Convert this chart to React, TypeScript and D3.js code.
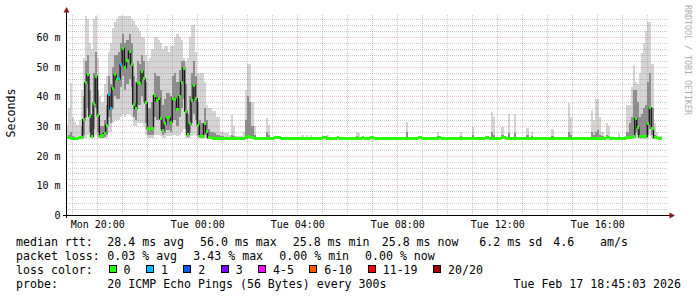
import React from "react";
import * as d3 from "d3";

// ---------------- data ----------------
const START = new Date(2026, 1, 16, 18, 45, 3);
const END = new Date(2026, 1, 17, 18, 45, 3);
const STEP_SECONDS = 300;

// median rtt (ms) per 5-minute step
const median: number[] = [
  26.0, 26.0, 25.9, 25.8, 25.8, 25.8, 26.0, 26.0, 32.1, 44.5,
  47.3, 33.3, 26.5, 37.7, 46.7, 33.5, 26.5, 26.9, 27.5, 30.2,
  40.5, 35.8, 42.8, 47.3, 45.6, 45.9, 50.7, 56.0, 49.6, 52.0,
  55.2, 50.9, 37.4, 35.8, 44.5, 44.2, 48.4, 45.9, 37.8, 29.1,
  28.8, 29.1, 40.3, 38.5, 39.4, 32.5, 28.6, 30.7, 32.7, 32.7,
  31.3, 39.4, 39.0, 35.4, 39.9, 44.8, 49.5, 35.0, 27.1, 30.7,
  38.5, 43.5, 39.2, 30.2, 26.6, 26.4, 30.7, 28.0, 26.0, 26.0,
  25.9, 25.9, 25.8, 25.8, 25.8, 25.8, 25.8, 25.8, 25.8, 25.9,
  25.8, 25.8, 25.8, 25.8, 25.8, 25.8, 26.0, 26.3, 26.5, 26.2,
  25.9, 25.8, 25.8, 25.8, 25.8, 25.8, 25.9, 25.8, 25.8, 25.8,
  26.1, 26.2, 26.1, 25.8, 25.8, 25.8, 25.8, 25.8, 25.8, 25.8,
  25.8, 25.8, 25.8, 25.8, 25.8, 25.8, 25.8, 25.8, 25.8, 25.8,
  25.8, 25.8, 25.8, 26.1, 26.2, 25.8, 25.8, 25.8, 25.8, 25.8,
  26.1, 25.8, 25.8, 25.8, 25.8, 25.8, 25.8, 25.8, 25.8, 25.9,
  25.8, 25.8, 26.1, 25.8, 25.8, 25.8, 26.1, 26.1, 25.8, 25.8,
  25.8, 25.8, 25.8, 25.8, 25.8, 25.8, 25.8, 25.8, 25.8, 25.8,
  25.8, 25.8, 25.8, 25.9, 25.8, 25.8, 25.8, 25.8, 25.8, 26.1,
  26.1, 25.8, 25.8, 25.8, 25.8, 25.8, 25.8, 25.8, 25.8, 26.1,
  25.8, 25.8, 25.8, 25.8, 25.8, 25.8, 25.8, 25.8, 25.8, 25.8,
  25.8, 25.8, 25.8, 25.8, 25.8, 25.8, 25.8, 25.8, 25.8, 25.8,
  25.8, 26.1, 26.1, 25.8, 25.9, 25.9, 25.8, 25.8, 25.8, 26.1,
  26.1, 25.8, 25.9, 25.8, 25.8, 25.9, 25.8, 25.8, 25.8, 25.8,
  25.8, 25.8, 25.8, 25.8, 25.8, 25.8, 25.8, 25.8, 25.8, 25.8,
  25.8, 25.8, 25.8, 25.8, 25.8, 25.8, 25.8, 25.8, 25.8, 25.8,
  25.8, 25.9, 25.8, 25.8, 25.8, 25.8, 25.8, 25.8, 25.8, 25.8,
  25.8, 25.8, 25.9, 25.8, 25.9, 25.9, 25.8, 25.8, 25.8, 26.1,
  26.1, 25.8, 25.7, 25.7, 25.7, 25.8, 25.8, 25.8, 25.8, 26.0,
  26.0, 26.2, 26.4, 32.5, 29.4, 26.4, 26.6, 26.6, 26.5, 30.7,
  36.1, 29.3, 26.0, 26.0, 25.9, 25.9,
];

// steps with packet loss (number of lost pings out of 20)
const lossSteps = [20, 21, 25, 26];
const lossCounts = [1, 1, 1, 1];

// smoke (ping spread) for the busy evening, steps 0..90
const leftSmokeMin: number[] = [
  25.7, 25.7, 25.7, 25.7, 25.7, 25.7, 25.7, 25.7, 25.8, 26,
  27, 26, 25.8, 26, 27, 26, 25.8, 25.8, 25.8, 26,
  28, 28, 31, 32, 32, 32, 33, 34, 33, 34,
  34, 33, 30, 30, 31, 31, 31, 30, 27, 26,
  26, 26, 27, 27, 27, 26.5, 26, 26, 26.5, 26.5,
  26.5, 27, 27, 26.5, 27, 28, 29, 26, 25.8, 26,
  26.5, 27, 26.5, 26, 25.8, 25.8, 26, 25.8, 25.7, 25.7,
  25.7, 25.7, 25.7, 25.7, 25.7, 25.7, 25.7, 25.7, 25.7, 25.7,
  25.7, 25.7, 25.7, 25.7, 25.7, 25.7, 25.7, 25.7, 25.7, 25.7,
  25.7,
];
const leftSmokeQ1: number[] = [
  25.8, 25.8, 25.8, 25.8, 25.8, 25.8, 25.8, 25.9, 27, 33,
  36, 28, 26, 29, 36, 28, 26, 26, 26.2, 27,
  33, 31, 36, 40, 39, 39, 43, 47, 42, 44,
  46, 43, 33, 32, 37, 37, 40, 38, 31, 27,
  27, 27, 33, 32, 32, 29, 27, 27.5, 28.5, 28.5,
  28, 32, 32, 30, 33, 36, 39, 29, 26.2, 27.5,
  31, 34, 32, 27, 26, 26, 27, 26.2, 25.8, 25.8,
  25.8, 25.8, 25.8, 25.8, 25.8, 25.8, 25.8, 25.8, 25.8, 25.8,
  25.8, 25.8, 25.8, 25.8, 25.8, 25.8, 25.9, 26, 26, 25.9,
  25.8,
];
const leftSmokeQ3: number[] = [
  26.5, 27, 28, 26.5, 26.3, 26.3, 26.5, 30, 40, 52,
  54, 42, 34, 48, 55, 42, 30, 30, 32, 37,
  47, 44, 50, 54, 54, 55, 58, 61, 58, 59,
  61, 58, 47, 45, 52, 51, 54, 52, 45, 36,
  36, 38, 48, 47, 47, 42, 37, 39, 41, 41,
  40, 47, 48, 45, 49, 52, 52, 44, 34, 40,
  48, 52, 47, 38, 32, 31, 36, 32, 29, 28,
  28, 27.5, 27, 27, 26.5, 26.5, 26.3, 26.3, 26.2, 27,
  26.5, 26, 26, 26, 26, 26.2, 32, 40, 38, 30,
  27,
];
const leftSmokeMax: number[] = [
  30.5, 36, 44.5, 33, 31.5, 30.5, 32, 42, 53, 67,
  66, 58, 56, 66, 67, 53, 40, 38, 44, 47,
  55, 58, 63, 65, 66, 67, 67, 67, 67, 67,
  67, 66, 65.5, 64, 63, 62, 60, 60, 54, 52,
  53, 56, 60, 60, 59, 58, 56, 57, 57, 55,
  57, 57, 60, 61, 60, 59, 53, 52, 53, 60,
  64, 64, 55, 48, 48, 48, 45, 37, 36, 36,
  35, 35, 33, 33, 28, 28, 27.5, 27.5, 27, 33.7,
  30, 26.5, 26.5, 26.5, 26.5, 28, 42, 51, 51, 38,
  30,
];

// smoke for the late afternoon, steps 268..285
const rightSmokeStart = 268;
const rightSmokeMin = [25.7, 25.7, 25.7, 25.7, 25.7, 26, 25.8, 25.7, 25.7, 25.7, 25.7, 26, 26.5, 26, 25.7, 25.7, 25.7, 25.7];
const rightSmokeQ1 = [25.8, 25.8, 25.9, 26, 26, 28, 27, 26, 26, 26, 26, 27, 29, 27, 25.8, 25.8, 25.8, 25.8];
const rightSmokeQ3 = [26, 28, 31, 33, 42, 42, 38, 33, 34, 36, 37, 45, 48, 36, 27, 26.5, 26.2, 26.2];
const rightSmokeMax = [26.5, 37, 37, 43, 50.5, 44.8, 44, 48, 54.5, 58, 62, 65, 65, 51, 31, 28, 26.5, 26.5];

// isolated smoke spikes during the quiet part
const spikeSteps = [96, 97, 113, 115, 117, 125, 139, 140, 163, 178, 189, 195, 204, 205, 209, 212, 215, 221, 223, 233, 241, 242, 252, 253, 254, 255, 256, 257, 259, 260, 265];
const spikeQ3 = [28, 27, 26.3, 26.3, 26.3, 26.3, 26.5, 26.3, 28, 26.5, 26.5, 27, 28, 27, 27, 27.5, 27.5, 27, 26.5, 26.5, 28, 27, 28, 27, 28, 28.5, 27, 26.5, 27, 26.5, 26.3];
const spikeMax = [32.7, 30.5, 26.9, 26.9, 26.9, 26.8, 28, 27.5, 31.5, 28, 28, 29.8, 34.8, 33, 29.5, 33.9, 33.9, 29.3, 28, 29, 37.6, 33, 35.4, 32, 39, 39, 33, 28, 31, 30, 27.6];

const yTickValues = [0, 10, 20, 30, 40, 50, 60];
const yTickLabels = ["0", "10 m", "20 m", "30 m", "40 m", "50 m", "60 m"];
const xTickLabels = ["Mon 20:00", "Tue 00:00", "Tue 04:00", "Tue 08:00", "Tue 12:00", "Tue 16:00"];

const lossLabels = ["0", "1", "2", "3", "4-5", "6-10", "11-19", "20/20"];
const lossColors = ["#26ff00", "#00b8ff", "#0059ff", "#7e00ff", "#ff00ff", "#ff5500", "#ff0000", "#a10000"];

const rttLegend = ["median rtt:", "28.4 ms avg", "56.0 ms max", "25.8 ms min", "25.8 ms now", "6.2 ms sd", "4.6", "am/s"];
const lossLegend = ["packet loss:", "0.03 % avg", "3.43 % max", "0.00 % min", "0.00 % now"];
const probeLegend = ["probe:", "20 ICMP Echo Pings (56 Bytes) every 300s", "Tue Feb 17 18:45:03 2026"];

// ---------------- chart ----------------
const FONT = "'DejaVu Sans Mono', monospace";

function lossBucket(c: number): number {
  if (c <= 0) return 0;
  if (c === 1) return 1;
  if (c === 2) return 2;
  if (c === 3) return 3;
  if (c <= 5) return 4;
  if (c <= 10) return 5;
  if (c <= 19) return 6;
  return 7;
}

export default function App() {
  const W = 697, H = 297;
  const x = d3.scaleTime().domain([START, END]).range([66, 666]);
  const y = d3.scaleLinear().domain([0, 67.42]).range([215, 15]);
  const n = median.length;
  const t = (i: number) => new Date(START.getTime() + i * STEP_SECONDS * 1000);

  const sMin = median.slice(), sQ1 = median.slice(), sQ3 = median.slice(), sMax = median.slice();
  leftSmokeMin.forEach((v, i) => { sMin[i] = v; sQ1[i] = leftSmokeQ1[i]; sQ3[i] = leftSmokeQ3[i]; sMax[i] = leftSmokeMax[i]; });
  rightSmokeMin.forEach((v, k) => {
    const i = rightSmokeStart + k;
    sMin[i] = v; sQ1[i] = rightSmokeQ1[k]; sQ3[i] = rightSmokeQ3[k]; sMax[i] = rightSmokeMax[k];
  });
  spikeSteps.forEach((i, k) => { sQ3[i] = spikeQ3[k]; sMax[i] = spikeMax[k]; });

  const loss = new Array(n).fill(0);
  lossSteps.forEach((i, k) => { loss[i] = lossCounts[k]; });

  const idx = d3.range(n + 1).map((k) => Math.min(k, n - 1));
  const band = (lo: number[], hi: number[]) =>
    d3.area<number>()
      .x((_, k) => x(t(k)))
      .y0((j) => y(lo[j]))
      .y1((j) => y(hi[j]))
      .curve(d3.curveStepAfter)(idx) || "";
  const medLine = d3.line<number>()
    .x((_, k) => x(t(k)))
    .y((j) => y(median[j]))
    .curve(d3.curveStepAfter)(idx) || "";

  const majorX = d3.timeHour.every(4)!.range(START, END);
  const minorX = d3.timeHour.every(1)!.range(START, END).filter((d) => d.getHours() % 4 !== 0);
  const minorY = d3.range(2, 67, 2).filter((v) => v % 10 !== 0);
  const majorY = yTickValues.filter((v) => v > 0);
  const px = (v: number) => Math.round(v) + 0.5;

  const minorStroke = "rgba(128,128,128,0.4)";
  const majorStroke = "rgba(225,90,90,0.38)";

  const rttX = [16, 107.3, 200, 292.7, 381.7, 479.3, 553.3, 600];
  const lossX = [16, 107.3, 193.3, 279.3, 365];
  const charW = 6.98;
  let sx = 108.5;
  const swatches = lossLabels.map((lab, k) => {
    const pos = sx;
    sx += 30.4 + charW * lab.length;
    return { lab, pos, color: lossColors[k] };
  });

  return (
    <svg width={W} height={H} style={{ position: "absolute", left: 0, top: 0, display: "block", background: "#fff" }}
      fontFamily={FONT}>
      <rect x={0} y={0} width={W} height={H} fill="#ffffff" />

      {/* smoke */}
      <path d={band(sMin, sMax)} fill="#d4d4d4" shapeRendering="crispEdges" />
      <path d={band(sQ1, sQ3)} fill="#8e8e8e" shapeRendering="crispEdges" />

      {/* grid */}
      {minorY.map((v) => (
        <line key={"hy" + v} x1={66} x2={667} y1={px(y(v))} y2={px(y(v))} stroke={minorStroke} strokeDasharray="1,1" />
      ))}
      {minorX.map((d) => (
        <line key={"vx" + d.getTime()} x1={px(x(d))} x2={px(x(d))} y1={15} y2={215} stroke={minorStroke} strokeDasharray="1,1" />
      ))}
      {majorY.map((v) => (
        <line key={"Hy" + v} x1={66} x2={667} y1={px(y(v))} y2={px(y(v))} stroke={majorStroke} strokeDasharray="1,1" />
      ))}
      {majorX.map((d) => (
        <line key={"Vx" + d.getTime()} x1={px(x(d))} x2={px(x(d))} y1={15} y2={215} stroke={majorStroke} strokeDasharray="1,1" />
      ))}

      {/* median */}
      <path d={medLine} fill="none" stroke="#181818" strokeWidth={1.4} />
      {median.map((m, i) => {
        const x0 = x(t(i)), x1 = x(t(i + 1));
        return (
          <rect key={"m" + i} x={x0} width={x1 - x0} y={y(m) - 1.5} height={3}
            fill={lossColors[lossBucket(loss[i])]} shapeRendering="crispEdges" />
        );
      })}

      {/* axes */}
      <line x1={63} x2={670} y1={215.5} y2={215.5} stroke="#000" shapeRendering="crispEdges" />
      <line x1={66.5} x2={66.5} y1={12} y2={218} stroke="#000" shapeRendering="crispEdges" />
      <path d="M669.5,212.5 L675,215.5 L669.5,218.5 Z" fill="#8b1a1a" />
      <path d="M63.5,12.5 L66.5,7 L69.5,12.5 Z" fill="#8b1a1a" />

      {yTickValues.map((v, k) => (
        <text key={"yl" + v} x={60.5} y={Math.round(y(v)) + 4} textAnchor="end" fontSize={10} fill="#000">
          {yTickLabels[k]}
        </text>
      ))}
      {majorX.map((d, k) => (
        <text key={"xl" + k} x={x(d) + 0.5} y={228} textAnchor="middle" fontSize={10} fill="#000">
          {xTickLabels[k]}
        </text>
      ))}

      <text transform="translate(15,113) rotate(-90)" textAnchor="middle" fontSize={11.6} fill="#000">Seconds</text>
      <text transform="translate(685,5) rotate(90)" textAnchor="start" fontSize={8.3} fill="#adadad">RRDTOOL / TOBI OETIKER</text>

      {/* legend */}
      <g fontSize={11.6} fill="#000">
        {rttLegend.map((s, k) => (
          <text key={"r" + k} x={rttX[k]} y={245.5} style={{ whiteSpace: "pre" }}>{s}</text>
        ))}
        {lossLegend.map((s, k) => (
          <text key={"l" + k} x={lossX[k]} y={259.5} style={{ whiteSpace: "pre" }}>{s}</text>
        ))}
        <text x={16} y={273.5}>loss color:</text>
        {swatches.map((s) => (
          <g key={"sw" + s.lab}>
            <rect x={Math.round(s.pos) + 0.5} y={265.5} width={7} height={7} fill={s.color} stroke="#000" strokeWidth={1} />
            <text x={s.pos + 15} y={273.5}>{s.lab}</text>
          </g>
        ))}
        <text x={16} y={287.5}>{probeLegend[0]}</text>
        <text x={107.3} y={287.5}>{probeLegend[1]}</text>
        <text x={681} y={287.5} textAnchor="end">{probeLegend[2]}</text>
      </g>
    </svg>
  );
}
